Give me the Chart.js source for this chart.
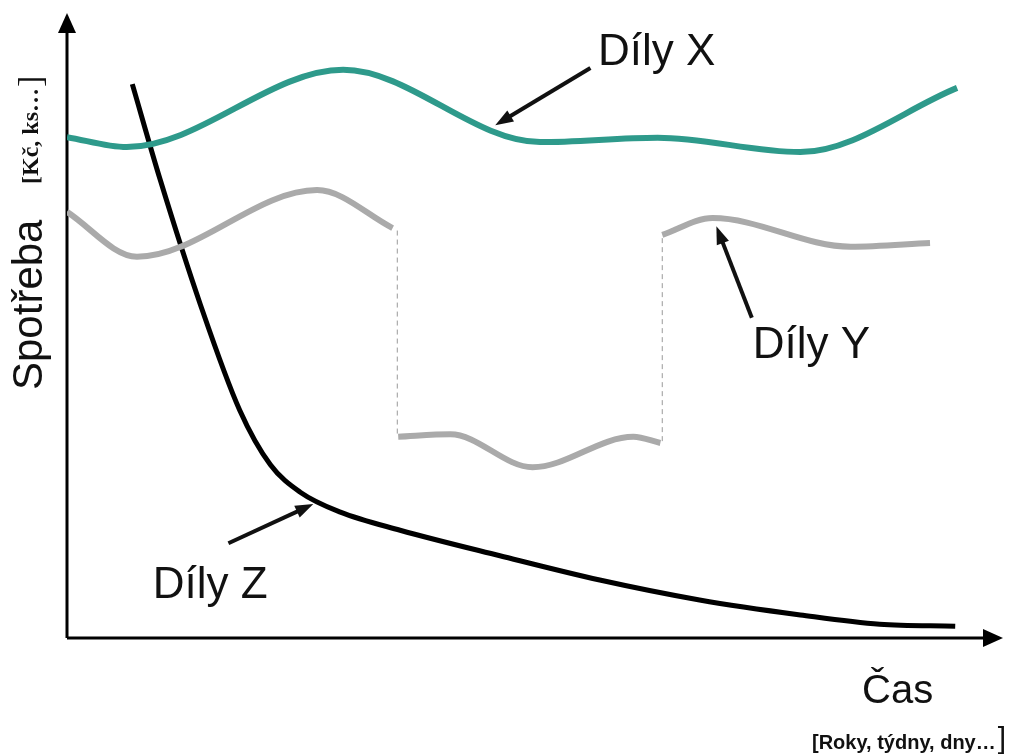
<!DOCTYPE html>
<html>
<head>
<meta charset="utf-8">
<script src="https://cdn.jsdelivr.net/npm/chart.js@4"></script>
<style>
html,body{margin:0;padding:0;background:#fff;}
canvas{display:block;}
</style>
</head>
<body>
<canvas id="c" width="1018" height="756"></canvas>
<script>
// ---- Data (abstract units: time 0..100, consumption 0..100) ----
const dilyX_t = [0, 6.4, 29.6, 50.7, 63.3, 78.6, 95.4];
const dilyX_v = [80.4, 78.8, 91.2, 79.6, 80.3, 78.0, 88.3];

const dilyY_t = [0, 7.5, 26.8, 34.9, 35.2, 35.5, 41.1, 49.9, 60.7, 63.6, 63.7, 63.8, 69.2, 84.0, 92.5];
const dilyY_v = [68.4, 61.2, 71.9, 65.8, null, 32.3, 32.7, 27.4, 32.3, 31.3, null, 64.7, 67.4, 62.8, 63.4];

const jumpY_t = [35.4, 35.4, 35.5, 63.8, 63.8];
const jumpY_v = [65.4, 32.3, null, 31.6, 64.5];

const dilyZ_t = [7.0, 10.0, 14.3, 18.5, 21.8, 25.0, 29.3, 35.7, 46.4, 57.1, 67.8, 78.6, 87.1, 95.2];
const dilyZ_v = [88.9, 73.5, 53.5, 36.6, 27.8, 23.4, 20.2, 17.3, 13.2, 9.3, 6.1, 3.7, 2.2, 1.9];

const seriesLabels = ['Díly X', 'Díly Y', 'Díly Z'];
const axisLabelY = 'Spotřeba';
const axisUnitY = '[Kč, ks…';
const axisLabelX = 'Čas';
const axisUnitX = '[Roky, týdny, dny…';

function pts(t, v) { return t.map((x, i) => ({x: x, y: v[i]})); }

// annotation anchors (label position, arrow tail -> head) in data units
const annotations = [
  {text: seriesLabels[0], tx: 56.9, ty: 92.0, from: [56.1, 91.5], to: [45.9, 82.3]},
  {text: seriesLabels[1], tx: 73.5, ty: 44.9, from: [73.4, 51.4], to: [69.6, 66.1]},
  {text: seriesLabels[2], tx: 9.2, ty: 6.4, from: [17.3, 15.2], to: [26.4, 21.5]}
];

function arrowHead(ctx, x1, y1, x2, y2, len, wid) {
  const a = Math.atan2(y2 - y1, x2 - x1);
  ctx.beginPath();
  ctx.moveTo(x2, y2);
  ctx.lineTo(x2 - len * Math.cos(a) + wid / 2 * Math.sin(a), y2 - len * Math.sin(a) - wid / 2 * Math.cos(a));
  ctx.lineTo(x2 - len * Math.cos(a) - wid / 2 * Math.sin(a), y2 - len * Math.sin(a) + wid / 2 * Math.cos(a));
  ctx.closePath();
  ctx.fill();
}

const decor = {
  id: 'decor',
  beforeDatasetsDraw(chart) {
    const ctx = chart.ctx, a = chart.chartArea;
    ctx.save();
    ctx.strokeStyle = '#000'; ctx.fillStyle = '#000'; ctx.lineWidth = 3;
    ctx.beginPath();
    ctx.moveTo(a.left, a.bottom); ctx.lineTo(a.left, a.top + 14);
    ctx.moveTo(a.left, a.bottom); ctx.lineTo(a.right - 14, a.bottom);
    ctx.stroke();
    arrowHead(ctx, a.left, a.bottom, a.left, a.top - 2, 20, 18);
    arrowHead(ctx, a.left, a.bottom, a.right + 3, a.bottom, 20, 18);
    ctx.restore();
  },
  afterDatasetsDraw(chart) {
    const ctx = chart.ctx, xs = chart.scales.x, ys = chart.scales.y;
    ctx.save();
    ctx.fillStyle = '#111'; ctx.strokeStyle = '#111';
    ctx.font = '44px "Liberation Sans", Arial, sans-serif';
    ctx.textBaseline = 'alphabetic';
    annotations.forEach(an => {
      ctx.fillText(an.text, xs.getPixelForValue(an.tx), ys.getPixelForValue(an.ty));
      const x1 = xs.getPixelForValue(an.from[0]), y1 = ys.getPixelForValue(an.from[1]);
      const x2 = xs.getPixelForValue(an.to[0]), y2 = ys.getPixelForValue(an.to[1]);
      const ang = Math.atan2(y2 - y1, x2 - x1);
      ctx.lineWidth = 4;
      ctx.beginPath();
      ctx.moveTo(x1, y1);
      ctx.lineTo(x2 - 12 * Math.cos(ang), y2 - 12 * Math.sin(ang));
      ctx.stroke();
      arrowHead(ctx, x1, y1, x2, y2, 18, 13);
    });
    // x-axis labels
    ctx.font = '40px "Liberation Sans", Arial, sans-serif';
    ctx.fillText(axisLabelX, 862, 703);
    ctx.font = 'bold 20px "Liberation Sans", Arial, sans-serif';
    ctx.fillText(axisUnitX, 812, 749);
    const w = ctx.measureText(axisUnitX).width;
    ctx.font = '30px "Liberation Sans", Arial, sans-serif';
    ctx.fillText(']', 812 + w + 2, 748);
    // y-axis labels (rotated)
    ctx.save();
    ctx.translate(42, 390);
    ctx.rotate(-Math.PI / 2);
    ctx.font = '42px "Liberation Sans", Arial, sans-serif';
    ctx.fillText(axisLabelY, 0, 0);
    ctx.restore();
    ctx.save();
    ctx.translate(38, 184);
    ctx.rotate(-Math.PI / 2);
    ctx.font = 'bold 24px "Liberation Serif", "Times New Roman", serif';
    ctx.fillText(axisUnitY, 0, 0);
    const w2 = ctx.measureText(axisUnitY).width;
    ctx.font = '34px "Liberation Serif", "Times New Roman", serif';
    ctx.fillText(']', w2 + 1, 3);
    ctx.restore();
    ctx.restore();
  }
};

new Chart(document.getElementById('c'), {
  type: 'line',
  data: {
    datasets: [
      {label: 'jumps', data: pts(jumpY_t, jumpY_v), borderColor: '#999', borderWidth: 1, borderDash: [5, 4], pointRadius: 0, tension: 0, spanGaps: false},
      {label: seriesLabels[0], data: pts(dilyX_t, dilyX_v), borderColor: '#2e9a8b', borderWidth: 6, pointRadius: 0, cubicInterpolationMode: 'monotone'},
      {label: seriesLabels[1], data: pts(dilyY_t, dilyY_v), borderColor: '#aaaaaa', borderWidth: 6, pointRadius: 0, cubicInterpolationMode: 'monotone', spanGaps: false},
      {label: seriesLabels[2], data: pts(dilyZ_t, dilyZ_v), borderColor: '#000', borderWidth: 5, pointRadius: 0, cubicInterpolationMode: 'monotone'}
    ]
  },
  options: {
    responsive: false,
    animation: false,
    devicePixelRatio: 1,
    layout: {padding: {left: 67, right: 18, top: 15, bottom: 118}},
    plugins: {legend: {display: false}, tooltip: {enabled: false}},
    scales: {
      x: {type: 'linear', min: 0, max: 100, display: false},
      y: {type: 'linear', min: 0, max: 100, display: false}
    }
  },
  plugins: [decor]
});
</script>
</body>
</html>
